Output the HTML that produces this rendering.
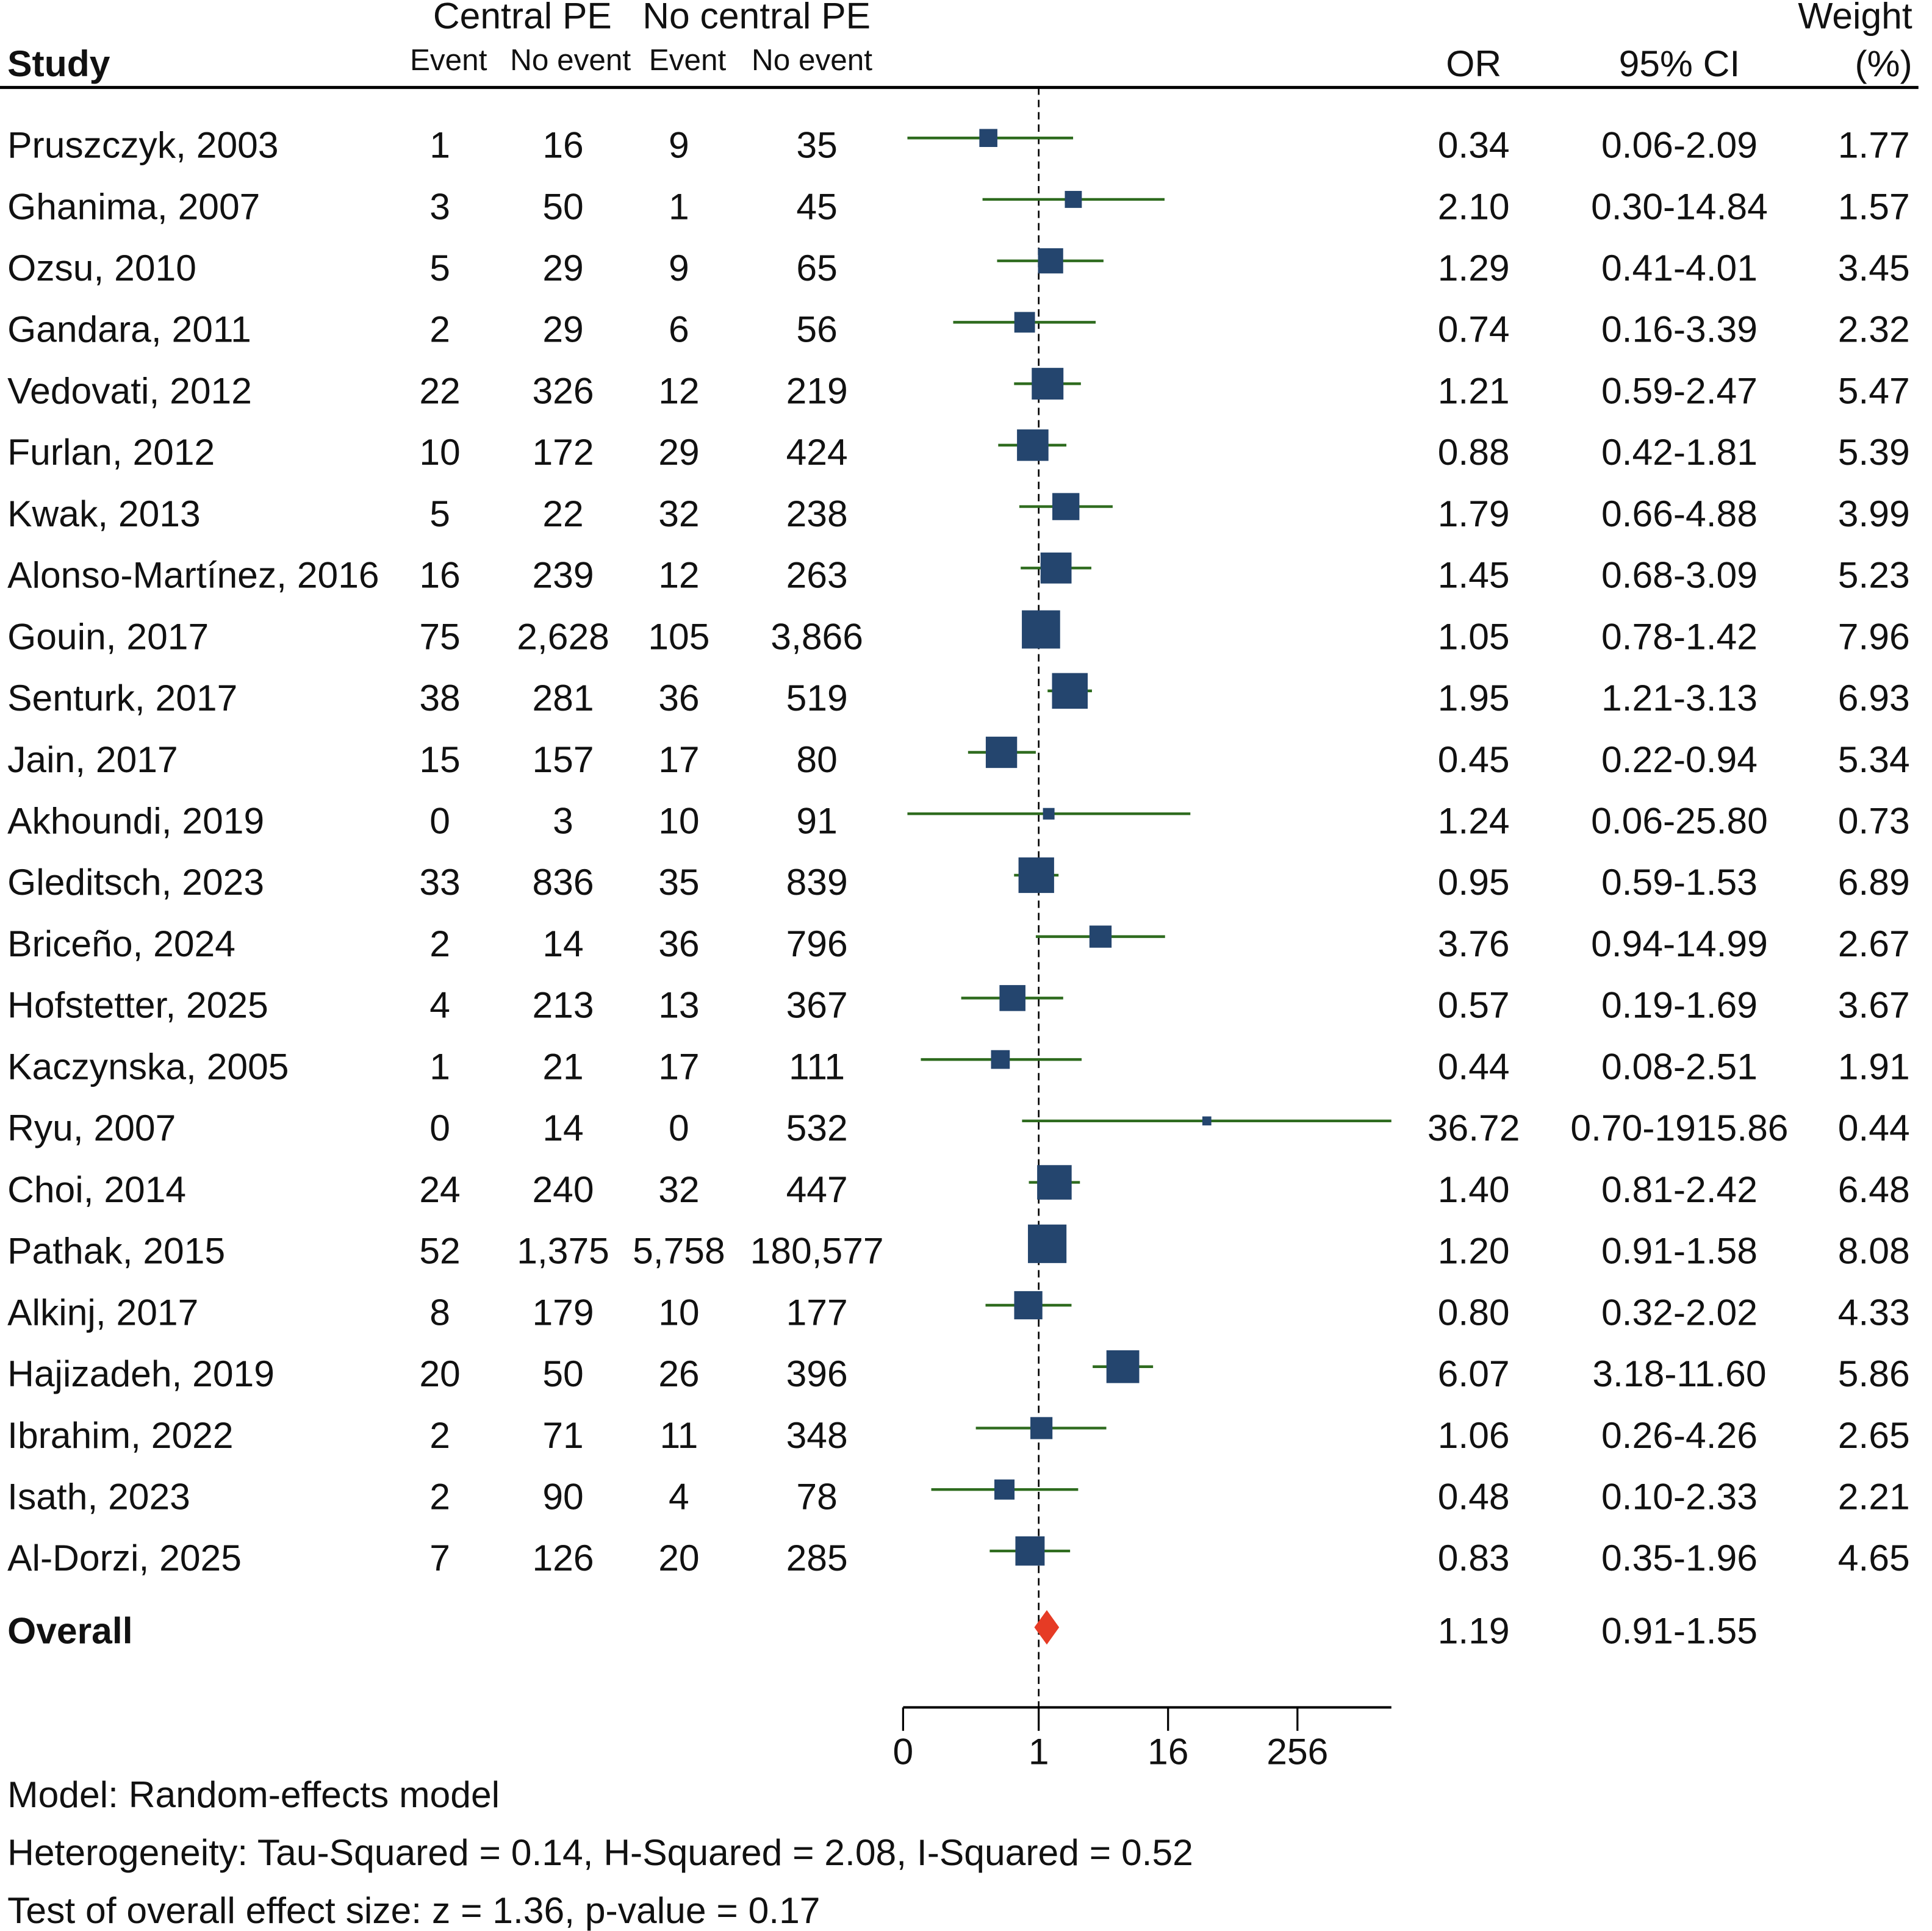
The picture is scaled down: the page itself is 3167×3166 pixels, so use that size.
<!DOCTYPE html>
<html><head><meta charset="utf-8"><style>
html,body{margin:0;padding:0;background:#fff;}
svg{display:block;}
text{font-family:"Liberation Sans",Arial,sans-serif;fill:#111;}
</style></head><body>
<svg id="chart" width="3167" height="3166" viewBox="0 0 1568 1567.5" xmlns="http://www.w3.org/2000/svg">
<g id="hdr">
<text x="424" y="23" font-size="30" text-anchor="middle">Central PE</text>
<text x="614" y="23" font-size="30" text-anchor="middle">No central PE</text>
<text x="1552" y="23" font-size="30" text-anchor="end">Weight</text>
<text x="6" y="62" font-size="30" font-weight="bold">Study</text>
<text x="364" y="57" font-size="24.5" text-anchor="middle">Event</text>
<text x="463" y="57" font-size="24.5" text-anchor="middle">No event</text>
<text x="558" y="57" font-size="24.5" text-anchor="middle">Event</text>
<text x="659" y="57" font-size="24.5" text-anchor="middle">No event</text>
<text x="1196" y="62" font-size="30" text-anchor="middle">OR</text>
<text x="1363" y="62" font-size="30" text-anchor="middle">95% CI</text>
<text x="1552" y="62" font-size="30" text-anchor="end">(%)</text>
<line x1="0" y1="71" x2="1557" y2="71" stroke="#000" stroke-width="2.5"/>
</g>
<line x1="843" y1="71" x2="843" y2="1386" stroke="#000" stroke-width="1.3" stroke-dasharray="6,4"/>
<g id="rows"></g>
<g id="axis"></g>
<text x="6" y="1467" font-size="30">Model: Random-effects model</text>
<text x="6" y="1514" font-size="30">Heterogeneity: Tau-Squared = 0.14, H-Squared = 2.08, I-Squared = 0.52</text>
<text x="6" y="1561" font-size="30">Test of overall effect size: z = 1.36, p-value = 0.17</text>
</svg>
<script>
const studies=["Pruszczyk, 2003","Ghanima, 2007","Ozsu, 2010","Gandara, 2011","Vedovati, 2012","Furlan, 2012","Kwak, 2013","Alonso-Martínez, 2016","Gouin, 2017","Senturk, 2017","Jain, 2017","Akhoundi, 2019","Gleditsch, 2023","Briceño, 2024","Hofstetter, 2025","Kaczynska, 2005","Ryu, 2007","Choi, 2014","Pathak, 2015","Alkinj, 2017","Hajizadeh, 2019","Ibrahim, 2022","Isath, 2023","Al-Dorzi, 2025"];
const cEvent=["1","3","5","2","22","10","5","16","75","38","15","0","33","2","4","1","0","24","52","8","20","2","2","7"];
const cNo=["16","50","29","29","326","172","22","239","2,628","281","157","3","836","14","213","21","14","240","1,375","179","50","71","90","126"];
const nEvent=["9","1","9","6","12","29","32","12","105","36","17","10","35","36","13","17","0","32","5,758","10","26","11","4","20"];
const nNo=["35","45","65","56","219","424","238","263","3,866","519","80","91","839","796","367","111","532","447","180,577","177","396","348","78","285"];
const orVals=[0.34,2.10,1.29,0.74,1.21,0.88,1.79,1.45,1.05,1.95,0.45,1.24,0.95,3.76,0.57,0.44,36.72,1.40,1.20,0.80,6.07,1.06,0.48,0.83];
const ciLow=[0.06,0.30,0.41,0.16,0.59,0.42,0.66,0.68,0.78,1.21,0.22,0.06,0.59,0.94,0.19,0.08,0.70,0.81,0.91,0.32,3.18,0.26,0.10,0.35];
const ciHigh=[2.09,14.84,4.01,3.39,2.47,1.81,4.88,3.09,1.42,3.13,0.94,25.80,1.53,14.99,1.69,2.51,1915.86,2.42,1.58,2.02,11.60,4.26,2.33,1.96];
const weights=[1.77,1.57,3.45,2.32,5.47,5.39,3.99,5.23,7.96,6.93,5.34,0.73,6.89,2.67,3.67,1.91,0.44,6.48,8.08,4.33,5.86,2.65,2.21,4.65];
const overall=[1.19,0.91,1.55];
const tickVals=[0.0547,1,16,256];
const tickLabels=["0","1","16","256"];
const NS="http://www.w3.org/2000/svg";
const X0=843,PX=26.25,AXMIN=0.0547,AXMAX=1916;
function xs(v){v=Math.max(AXMIN,Math.min(AXMAX,v));return X0+PX*Math.log2(v);}
function ys(i){return 112+i*49.87;}
function mk(tag,attrs,parent){const e=document.createElementNS(NS,tag);for(const k in attrs)e.setAttribute(k,attrs[k]);parent.appendChild(e);return e;}
function txt(s,x,y,anchor,parent){const t=mk('text',{x:x,y:y,'font-size':30,'text-anchor':anchor},parent);t.textContent=s;return t;}
const rows=document.getElementById('rows');
studies.forEach((s,i)=>{
 const g=mk('g',{},rows);
 
 
 const ty=ys(i)+16;
 let t;
 t=txt(s,6,ty,'start',g);
 t=txt(cEvent[i],357,ty,'middle',g);
 t=txt(cNo[i],457,ty,'middle',g);
 t=txt(nEvent[i],551,ty,'middle',g);
 t=txt(nNo[i],663,ty,'middle',g);
 t=txt(orVals[i].toFixed(2),1196,ty,'middle',g);
 t=txt(ciLow[i].toFixed(2)+'-'+ciHigh[i].toFixed(2),1363,ty,'middle',g);
 t=txt(weights[i].toFixed(2),1550,ty,'end',g);
 const l=mk('line',{x1:xs(ciLow[i]),x2:xs(ciHigh[i]),y1:ys(i),y2:ys(i),stroke:'#2e6b1e','stroke-width':2.2},g);
 
 
 const sz=11*Math.sqrt(weights[i]);
 const r=mk('rect',{x:xs(orVals[i])-sz/2,y:ys(i)-sz/2,width:sz,height:sz,fill:'#24456e'},g);
 
 
});
const og=mk('g',{},rows);


let ot=txt('Overall',6,1334,'start',og);ot.setAttribute('font-weight','bold');


ot=txt(overall[0].toFixed(2),1196,1334,'middle',og);


ot=txt(overall[1].toFixed(2)+'-'+overall[2].toFixed(2),1363,1334,'middle',og);


const cy=1321;
const d=mk('polygon',{points:`${xs(overall[1])},${cy} ${xs(overall[0])},${cy-14} ${xs(overall[2])},${cy} ${xs(overall[0])},${cy+14}`,fill:'#e63b25'},og);


const ax=document.getElementById('axis');


const al=mk('line',{x1:xs(AXMIN),x2:xs(AXMAX),y1:1386,y2:1386,stroke:'#000','stroke-width':2},ax);


tickVals.forEach((v,i)=>{
 const tk=mk('line',{x1:xs(v),x2:xs(v),y1:1386,y2:1405,stroke:'#000','stroke-width':1.6},ax);
 
 
 const lb=txt(tickLabels[i],xs(v),1432,'middle',ax);
 
 
});
</script>
</body></html>
